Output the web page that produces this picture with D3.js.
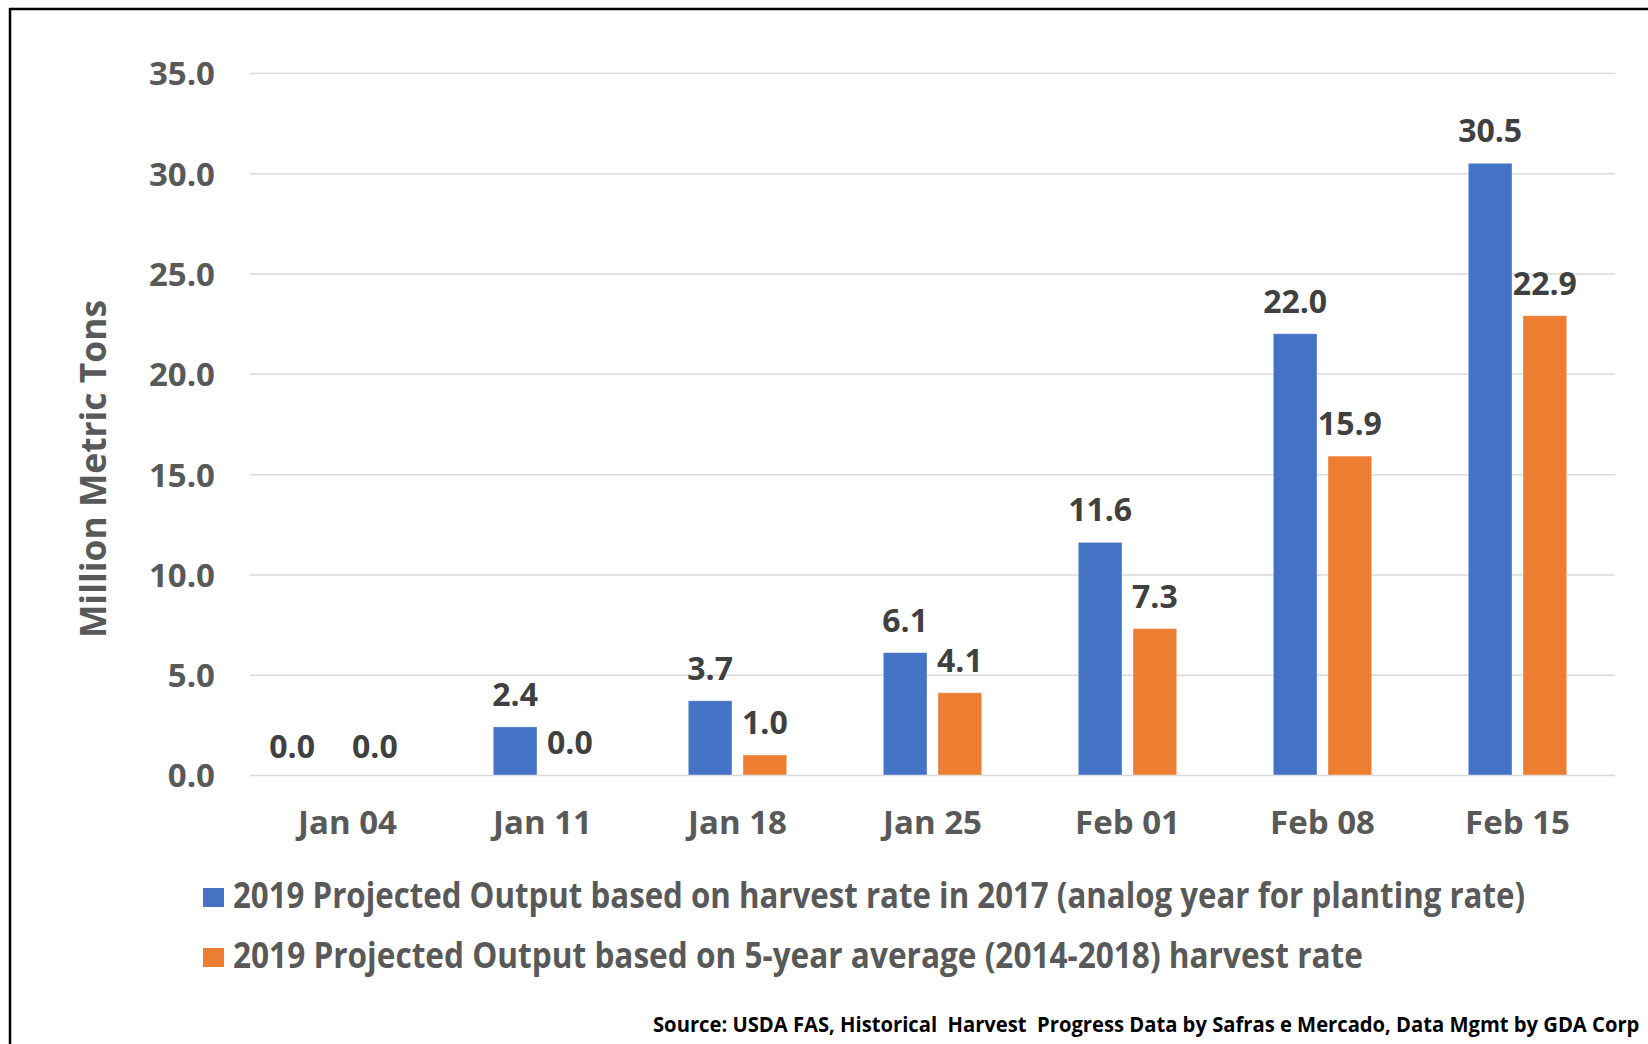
<!DOCTYPE html>
<html>
<head>
<meta charset="utf-8">
<script src="https://cdn.jsdelivr.net/npm/d3@7"></script>
<style>
  html, body { margin: 0; padding: 0; background: #fff; }
  svg { display: block; }
  text { font-family: "Open Sans", "Noto Sans", sans-serif; font-weight: 700; }
</style>
</head>
<body>
<svg id="chart" width="1648" height="1044"></svg>
<script>
// Weekly harvest dates
const categories = ["Jan 04", "Jan 11", "Jan 18", "Jan 25", "Feb 01", "Feb 08", "Feb 15"];
// Projected output (million metric tons), 2017 analog-year harvest rate
const analog2017 = [0.0, 2.4, 3.7, 6.1, 11.6, 22.0, 30.5];
// Projected output (million metric tons), 5-year average harvest rate
const fiveYearAvg = [0.0, 0.0, 1.0, 4.1, 7.3, 15.9, 22.9];
// Series names shown in the legend
const seriesNames = [
  "2019 Projected Output based on harvest rate in 2017 (analog year for planting rate)",
  "2019 Projected Output based on 5-year average (2014-2018) harvest rate"
];
const seriesColors = ["#4472C4", "#ED7D31"];
const yTicks = [0, 5, 10, 15, 20, 25, 30, 35];
const yTitle = "Million Metric Tons";
const sourceNote = "Source: USDA FAS, Historical  Harvest  Progress Data by Safras e Mercado, Data Mgmt by GDA Corp";

const svg = d3.select("#chart");
const W = 1648, H = 1044;
const plot = { left: 250, right: 1615, top: 73, bottom: 775 };
const fmt = d3.format(".1f");

svg.append("rect").attr("width", W).attr("height", H).attr("fill", "#fff");

// Outer frame (top and left edges)
svg.append("line").attr("x1", 9).attr("x2", W).attr("y1", 9).attr("y2", 9)
  .attr("stroke", "#000").attr("stroke-width", 2.5);
svg.append("line").attr("x1", 10).attr("x2", 10).attr("y1", 8).attr("y2", H)
  .attr("stroke", "#000").attr("stroke-width", 2.5);

// Draws a condensed text line: the font size is chosen so the natural width
// equals `width`, then the glyphs are stretched vertically to the wanted size.
function condensedText(parent, str, x, y, size, width, opts = {}) {
  const g = parent.append("g");
  const t = g.append("text").attr("font-size", size).text(str)
    .attr("fill", opts.fill || "#595959")
    .attr("text-anchor", opts.anchor || "start");
  if (opts.pre) t.attr("xml:space", "preserve").style("white-space", "pre");
  const natural = t.node().getComputedTextLength();
  const fitted = size * width / natural;
  t.attr("font-size", fitted);
  const sy = size / fitted;
  const rot = opts.rotate ? ` rotate(${opts.rotate})` : "";
  g.attr("transform", `translate(${x},${y})${rot} scale(1,${sy})`);
  return g;
}

const y = d3.scaleLinear().domain([0, 35]).range([plot.bottom, plot.top]);
const x0 = d3.scaleBand().domain(categories).range([plot.left, plot.right])
  .paddingInner(0.495).paddingOuter(0.2475);
const seriesKeys = ["a", "b"];
const x1 = d3.scaleBand().domain(seriesKeys).range([0, x0.bandwidth()]).paddingInner(0.2);

// Y axis with gridlines
const yAxis = svg.append("g")
  .attr("transform", `translate(${plot.left},0)`)
  .call(d3.axisLeft(y).tickValues(yTicks).tickFormat(fmt)
    .tickSize(-(plot.right - plot.left)).tickPadding(35));
yAxis.select(".domain").remove();
yAxis.selectAll(".tick line").attr("stroke", "#d9d9d9").attr("stroke-width", 1.5);
yAxis.selectAll(".tick text")
  .attr("fill", "#595959").attr("font-size", 33).attr("dy", "0.36em")
  .style("font-family", "'Open Sans', sans-serif").style("font-weight", 700);

// X axis labels
const xAxis = svg.append("g")
  .attr("transform", `translate(0,${plot.bottom})`)
  .call(d3.axisBottom(x0).tickSize(0));
xAxis.select(".domain").remove();
xAxis.selectAll(".tick text")
  .attr("y", 59).attr("dy", 0)
  .attr("fill", "#595959").attr("font-size", 33)
  .style("font-family", "'Open Sans', sans-serif").style("font-weight", 700);

// Bars
const rows = categories.map((c, i) => ({ cat: c, vals: [
  { key: "a", v: analog2017[i] }, { key: "b", v: fiveYearAvg[i] }] }));

const groups = svg.append("g").selectAll("g").data(rows).join("g")
  .attr("transform", d => `translate(${x0(d.cat)},0)`);

groups.selectAll("rect").data(d => d.vals).join("rect")
  .attr("x", d => x1(d.key))
  .attr("width", x1.bandwidth())
  .attr("y", d => y(d.v))
  .attr("height", d => y(0) - y(d.v))
  .attr("fill", (d, i) => seriesColors[i])
  .attr("stroke", "#fff").attr("stroke-opacity", 0.5).attr("stroke-width", 0.8);

// Value labels above each bar
groups.each(function () {
  const labels = d3.select(this).selectAll("text").data(d => d.vals).join("text")
    .attr("x", d => x1(d.key) + x1.bandwidth() / 2)
    .attr("y", d => y(d.v) - 21)
    .attr("text-anchor", "middle")
    .attr("fill", "#404040").attr("font-size", 32)
    .text(d => fmt(d.v));
  // When the two labels sit at the same height and crowd each other,
  // push the first one to the left and drop both slightly.
  const nodes = labels.nodes();
  const [a, b] = nodes.map(n => n.getBBox());
  if (Math.abs(a.y - b.y) < a.height * 0.5 && a.x + a.width + 30 > b.x) {
    const shift = a.x + a.width + 37 - b.x;
    d3.select(nodes[0]).attr("x", +d3.select(nodes[0]).attr("x") - shift);
    labels.attr("y", d => y(d.v) - 17);
  }
});

// Y axis title
condensedText(svg, yTitle, 106, 469, 36, 338, { anchor: "middle", rotate: -90 });

// Legend
const legendRows = [
  { y: 888, width: 1293 },
  { y: 948, width: 1130 }
];
seriesNames.forEach((name, i) => {
  svg.append("rect").attr("x", 203).attr("y", legendRows[i].y)
    .attr("width", 21).attr("height", 19).attr("fill", seriesColors[i]);
  condensedText(svg, name, 233, legendRows[i].y + 20, 35, legendRows[i].width);
});

// Source note
condensedText(svg, sourceNote, 653, 1032, 22, 987, { fill: "#000", pre: true });
</script>
</body>
</html>
